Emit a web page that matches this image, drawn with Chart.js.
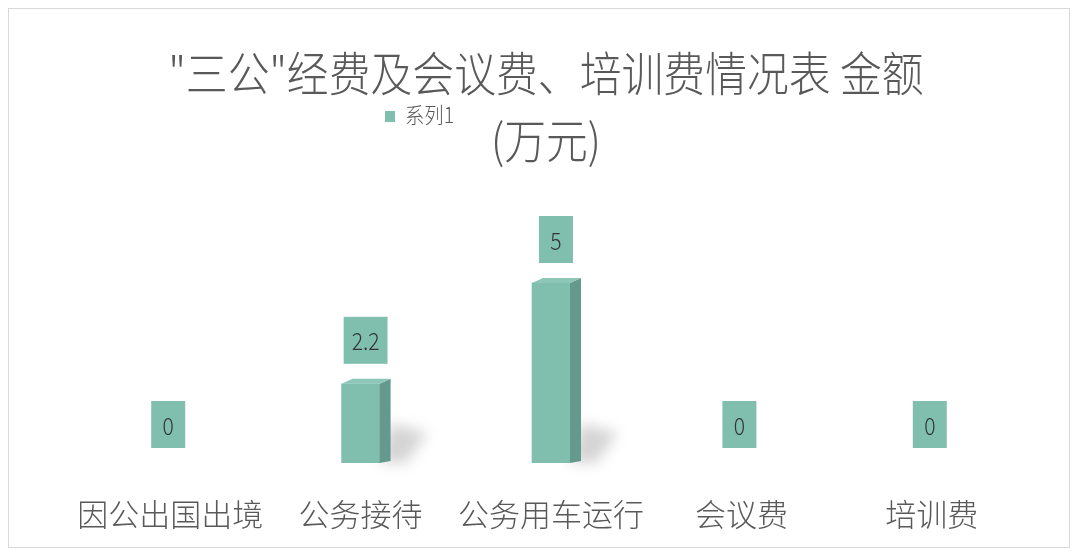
<!DOCTYPE html>
<html>
<head>
<meta charset="utf-8">
<script src="https://cdn.jsdelivr.net/npm/chart.js@4"></script>
<style>
  html, body { margin: 0; padding: 0; background: #fff; }
  #wrap { position: absolute; left: 8px; top: 8px; width: 1060px; height: 538px; border: 1px solid #d9d9d9; }
  canvas { display: block; }
</style>
</head>
<body>
<div id="wrap"><canvas id="c" width="1060" height="538"></canvas></div>
<script>
// chart data
const categories = ['因公出国出境', '公务接待', '公务用车运行', '会议费', '培训费'];
const seriesName = '系列1';
const values = [0, 2.2, 5, 0, 0];
const titleLines = ['"三公"经费及会议费、培训费情况表 金额', '(万元)'];

const FONT = '"Noto Sans CJK SC", "Noto Sans", sans-serif';
const TEAL = '#80bfae';
const TEAL_SIDE = '#64998d';
const TEXT = '#595959';

// draws text squeezed horizontally, the original font is a narrow one
function narrowText(ctx, txt, x, y, sx) {
    ctx.save();
    ctx.translate(x, y);
    ctx.scale(sx, 1);
    ctx.fillText(txt, 0, 0);
    ctx.restore();
}

// title + legend drawn at fixed spots (they overlap in the original)
const headerPlugin = {
    id: 'header',
    afterDraw: function (chart) {
        const ctx = chart.ctx;
        ctx.save();
        ctx.fillStyle = TEXT;
        ctx.textAlign = 'center';
        ctx.textBaseline = 'middle';
        ctx.font = '300 47px ' + FONT;
        narrowText(ctx, titleLines[0], 537, 64, 0.89);
        narrowText(ctx, titleLines[1], 537, 131, 0.89);
        ctx.fillStyle = TEAL;
        ctx.fillRect(376, 102, 10, 11);
        ctx.fillStyle = TEXT;
        ctx.textAlign = 'left';
        ctx.font = '300 22px ' + FONT;
        narrowText(ctx, chart.data.datasets[0].label, 396, 106, 0.88);
        ctx.restore();
    }
};

// fake 3d: shadow, side face, top face, then value boxes
const bar3dPlugin = {
    id: 'bar3d',
    beforeDatasetsDraw: function (chart) {
        const ctx = chart.ctx;
        const meta = chart.getDatasetMeta(0);
        meta.data.forEach(function (bar) {
            const h = bar.base - bar.y;
            if (h <= 0) return;
            const right = bar.x + bar.width / 2;
            const sh = Math.min(h, 40);
            ctx.save();
            ctx.filter = 'blur(7px)';
            ctx.fillStyle = 'rgba(0,0,0,0.17)';
            ctx.beginPath();
            ctx.moveTo(right, bar.base);
            ctx.lineTo(right + 10, bar.base - sh);
            ctx.lineTo(right + 48, bar.base - sh * 0.75);
            ctx.lineTo(right + 26, bar.base);
            ctx.closePath();
            ctx.fill();
            ctx.restore();
        });
    },
    afterDatasetsDraw: function (chart) {
        const ctx = chart.ctx;
        const meta = chart.getDatasetMeta(0);
        const d = 11, e = 5;
        meta.data.forEach(function (bar, i) {
            const left = bar.x - bar.width / 2;
            const right = bar.x + bar.width / 2;
            const h = bar.base - bar.y;
            ctx.save();
            if (h > 0) {
                ctx.fillStyle = TEAL_SIDE;
                ctx.beginPath();
                ctx.moveTo(right, bar.y);
                ctx.lineTo(right + d, bar.y - e);
                ctx.lineTo(right + d, bar.base - 2);
                ctx.lineTo(right, bar.base);
                ctx.closePath();
                ctx.fill();
                ctx.fillStyle = '#8cc7b8';
                ctx.beginPath();
                ctx.moveTo(left, bar.y);
                ctx.lineTo(left + d, bar.y - e);
                ctx.lineTo(right + d, bar.y - e);
                ctx.lineTo(right, bar.y);
                ctx.closePath();
                ctx.fill();
            }
            // value box
            const txt = String(chart.data.datasets[0].data[i]);
            ctx.font = '300 24px ' + FONT;
            const tw = ctx.measureText(txt).width * 0.88;
            const bw = Math.max(34, tw + 16);
            const bh = 47;
            const cx = bar.x + (h > 0 ? 5 : -2);
            const bottom = bar.y - (h > 0 ? e : 0) - 15;
            ctx.fillStyle = TEAL;
            ctx.fillRect(cx - bw / 2, bottom - bh, bw, bh);
            ctx.fillStyle = '#333333';
            ctx.textAlign = 'center';
            ctx.textBaseline = 'middle';
            narrowText(ctx, txt, cx, bottom - bh / 2 + 1, 0.88);
            ctx.restore();
        });
    }
};

new Chart(document.getElementById('c'), {
    type: 'bar',
    data: {
        labels: categories,
        datasets: [{
            label: seriesName,
            data: values,
            backgroundColor: function (c) { return c.raw > 0 ? TEAL : 'rgba(0,0,0,0)'; },
            barThickness: 38
        }]
    },
    options: {
        responsive: false,
        animation: false,
        layout: { padding: { left: 66, right: 42, top: 202, bottom: 0 } },
        plugins: {
            legend: { display: false },
            title: { display: false },
            tooltip: { enabled: false }
        },
        scales: {
            x: {
                grid: { display: false },
                border: { display: false },
                ticks: { color: TEXT, font: { family: FONT, size: 31, weight: '300' }, padding: 25, maxRotation: 0 },
                afterFit: function (s) { s.height = 84; }
            },
            y: {
                display: false,
                min: 0,
                max: 7
            }
        }
    },
    plugins: [bar3dPlugin, headerPlugin]
});
</script>
</body>
</html>
